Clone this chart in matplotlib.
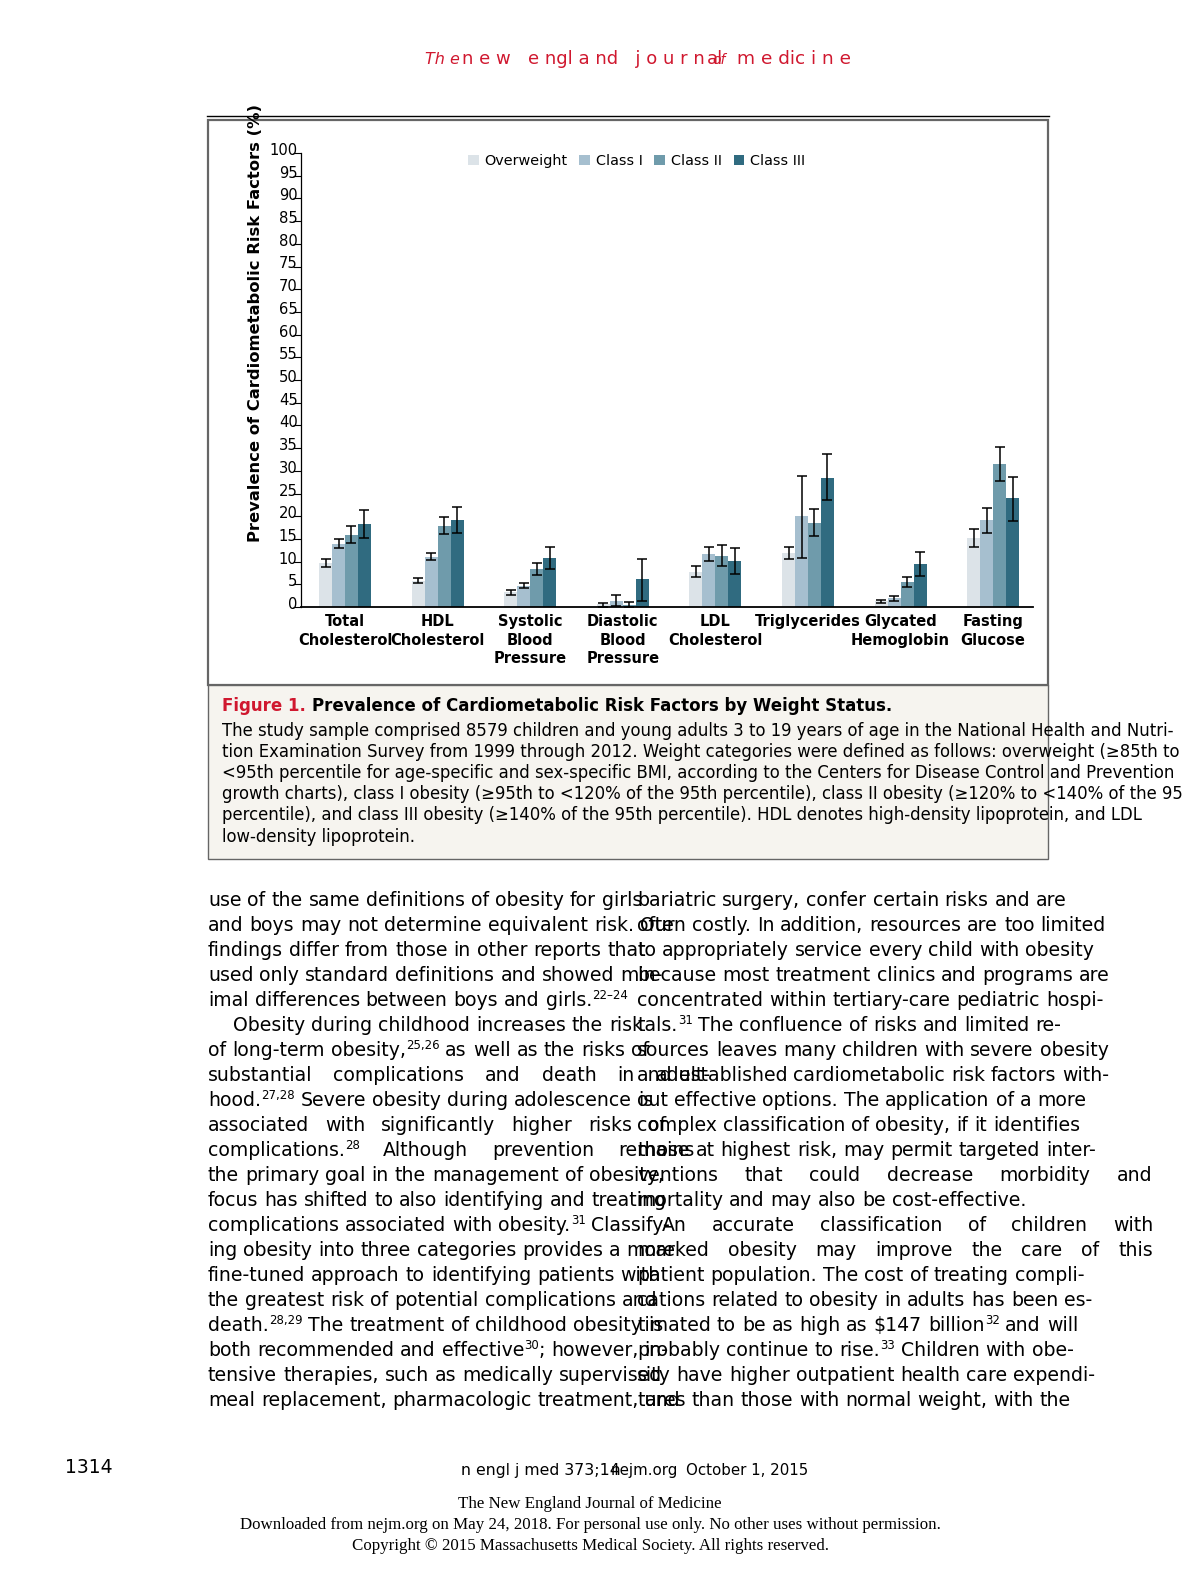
import re
import matplotlib
matplotlib.use('Agg')
import matplotlib.pyplot as plt
import numpy as np
from matplotlib.patches import Rectangle, Patch
from matplotlib.lines import Line2D
from matplotlib.transforms import ScaledTranslation

plt.rcParams['font.family'] = ['DejaVu Sans']

# data (prevalence %, with 95% CI ends)
categories = ['Total\nCholesterol', 'HDL\nCholesterol', 'Systolic\nBlood\nPressure',
              'Diastolic\nBlood\nPressure', 'LDL\nCholesterol', 'Triglycerides',
              'Glycated\nHemoglobin', 'Fasting\nGlucose']
groups = ['Overweight', 'Class I', 'Class II', 'Class III']

overweight = [9.8, 5.7, 3.2, 0.6, 7.7, 11.8, 1.25, 15.2]
ow_lo = [8.9, 5.2, 2.6, 0.0, 6.5, 10.5, 0.95, 13.3]
ow_hi = [10.5, 6.3, 3.7, 0.9, 9.0, 13.3, 1.6, 17.1]

class1 = [13.9, 11.1, 4.7, 1.4, 11.7, 20.0, 2.0, 19.2]
c1_lo = [13.0, 10.4, 4.1, 0.2, 10.1, 10.9, 1.25, 16.4]
c1_hi = [14.9, 11.8, 5.2, 2.6, 13.3, 28.9, 2.5, 21.7]

class2 = [15.9, 17.8, 8.4, 0.55, 11.2, 18.4, 5.5, 31.5]
c2_lo = [14.0, 16.1, 7.0, 0.0, 9.0, 15.6, 4.5, 27.7]
c2_hi = [17.8, 19.8, 9.8, 1.1, 13.6, 21.5, 6.7, 35.3]

class3 = [18.3, 19.2, 10.8, 6.1, 10.1, 28.4, 9.5, 24.0]
c3_lo = [15.3, 16.4, 8.3, 1.4, 7.3, 23.6, 6.9, 19.0]
c3_hi = [21.4, 22.0, 13.3, 10.6, 13.1, 33.6, 12.2, 28.7]

colors = ['#dce3e8', '#a6bfcf', '#6f9bab', '#306b80']
red = '#d0182f'

caption_lines = [
    "The study sample comprised 8579 children and young adults 3 to 19 years of age in the National Health and Nutri-",
    "tion Examination Survey from 1999 through 2012. Weight categories were defined as follows: overweight (\u226585th to",
    "<95th percentile for age-specific and sex-specific BMI, according to the Centers for Disease Control and Prevention",
    "growth charts), class I obesity (\u226595th to <120% of the 95th percentile), class II obesity (\u2265120% to <140% of the 95th",
    "percentile), and class III obesity (\u2265140% of the 95th percentile). HDL denotes high-density lipoprotein, and LDL",
    "low-density lipoprotein.",
]

left_col = [
    "use of the same definitions of obesity for girls",
    "and boys may not determine equivalent risk. Our",
    "findings differ from those in other reports that",
    "used only standard definitions and showed min-",
    "imal differences between boys and girls.^{22\u201324}",
    "Obesity during childhood increases the risk",
    "of long-term obesity,^{25,26} as well as the risks of",
    "substantial complications and death in adult-",
    "hood.^{27,28} Severe obesity during adolescence is",
    "associated with significantly higher risks of",
    "complications.^{28} Although prevention remains",
    "the primary goal in the management of obesity,",
    "focus has shifted to also identifying and treating",
    "complications associated with obesity.^{31} Classify-",
    "ing obesity into three categories provides a more",
    "fine-tuned approach to identifying patients with",
    "the greatest risk of potential complications and",
    "death.^{28,29} The treatment of childhood obesity is",
    "both recommended and effective^{30}; however, in-",
    "tensive therapies, such as medically supervised",
    "meal replacement, pharmacologic treatment, and",
]
right_col = [
    "bariatric surgery, confer certain risks and are",
    "often costly. In addition, resources are too limited",
    "to appropriately service every child with obesity",
    "because most treatment clinics and programs are",
    "concentrated within tertiary-care pediatric hospi-",
    "tals.^{31} The confluence of risks and limited re-",
    "sources leaves many children with severe obesity",
    "and established cardiometabolic risk factors with-",
    "out effective options. The application of a more",
    "complex classification of obesity, if it identifies",
    "those at highest risk, may permit targeted inter-",
    "ventions that could decrease morbidity and",
    "mortality and may also be cost-effective.",
    "An accurate classification of children with",
    "marked obesity may improve the care of this",
    "patient population. The cost of treating compli-",
    "cations related to obesity in adults has been es-",
    "timated to be as high as $147 billion^{32} and will",
    "probably continue to rise.^{33} Children with obe-",
    "sity have higher outpatient health care expendi-",
    "tures than those with normal weight, with the",
]

W, H = 1182, 1575
fig = plt.figure(figsize=(W / 100, H / 100), dpi=100)
renderer = fig.canvas.get_renderer()


def fx(x):
    return x / W


def fy(y):
    return 1 - y / H


def put(x, y, s, **kw):
    return fig.text(fx(x), fy(y), s, parse_math=False, **kw)


def width(s, size, **kw):
    t = put(0, 0, s, fontsize=size, **kw)
    w = t.get_window_extent(renderer).width
    t.remove()
    return w


def draw_line(x, y, line, size, right=None):
    # y is the baseline in page pixels; ^{..} marks a superscript
    sup_size = size * 0.62
    words = []
    for word in line.split(' '):
        pieces = [(p, i % 2 == 1) for i, p in enumerate(re.split(r'\^\{([^}]*)\}', word)) if p]
        wsum = sum(width(p, sup_size if s else size) for p, s in pieces)
        words.append((pieces, wsum))
    space = width('a a', size) - width('aa', size)
    gap = space
    if right is not None and len(words) > 1:
        gap = (right - x - sum(w for _, w in words)) / (len(words) - 1)
    cx = x
    for pieces, wsum in words:
        px = cx
        for p, s in pieces:
            if s:
                put(px + 0.5, y - 7, p, fontsize=sup_size, va='baseline')
                px += width(p, sup_size)
            else:
                put(px, y, p, fontsize=size, va='baseline')
                px += width(p, size)
        cx += wsum + gap


# page furniture
fig.add_artist(Line2D([fx(207), fx(1049)], [fy(115.5), fy(115.5)], color='black', lw=1.0))
fig.add_artist(Rectangle((fx(208), fy(685)), fx(1048) - fx(208), fy(120) - fy(685),
                         transform=fig.transFigure, facecolor='white', edgecolor='#666666', lw=1.6, zorder=0))
fig.add_artist(Rectangle((fx(208), fy(859)), fx(1048) - fx(208), fy(685) - fy(859),
                         transform=fig.transFigure, facecolor='#f6f4ef', edgecolor='#666666', lw=1.0, zorder=0))

# header
put(425, 64, 'Th e', fontsize=11.5, style='italic', color=red, va='baseline')
put(462, 64, 'n e w   e ngl a nd   j o u r n', fontsize=13, color=red, va='baseline')
put(707, 64, 'al', fontsize=13, color=red, va='baseline')
put(712, 64, 'of', fontsize=10, style='italic', color=red, va='baseline')
put(737, 64, 'm e dic i n e', fontsize=13.3, color=red, va='baseline')

# chart
ax = fig.add_axes([fx(301), fy(607), (1033 - 301) / W, (607 - 153) / H])
ax.patch.set_alpha(0)
x = np.arange(len(categories))
bw = 0.14
series = [(overweight, ow_lo, ow_hi), (class1, c1_lo, c1_hi),
          (class2, c2_lo, c2_hi), (class3, c3_lo, c3_hi)]
for j, (vals, lo, hi) in enumerate(series):
    vals, lo, hi = np.array(vals), np.array(lo), np.array(hi)
    xs = x + (j - 1.5) * bw
    ax.bar(xs, vals, bw, color=colors[j], label=groups[j], zorder=2)
    ax.errorbar(xs, vals, yerr=[vals - lo, hi - vals], fmt='none', ecolor='black',
                elinewidth=1.1, capsize=3.5, capthick=1.1, zorder=3)

ax.set_xlim(-0.475, 7.43)
ax.set_ylim(0, 100)
ax.set_yticks(range(0, 101, 5))
ax.tick_params(axis='y', direction='out', length=6, width=0.8, pad=-3.5, labelsize=10.6)
ax.set_yticklabels([str(v) for v in range(0, 101, 5)])
shift = ScaledTranslation(0, -2 / 100, fig.dpi_scale_trans)
for lab in ax.get_yticklabels():
    lab.set_va('baseline')
    lab.set_transform(lab.get_transform() + shift)
ax.set_xticks(x)
ax.set_xticklabels(categories, fontweight='bold', fontsize=10.5, linespacing=1.3)
ax.tick_params(axis='x', length=0, pad=5)
ax.spines['top'].set_visible(False)
ax.spines['right'].set_visible(False)
ax.spines['left'].set_linewidth(0.9)
ax.spines['bottom'].set_linewidth(1.3)

fig.text(fx(256), fy(323), 'Prevalence of Cardiometabolic Risk Factors (%)', rotation=90,
         ha='center', va='center', fontsize=11.8, fontweight='bold')

handles = [Patch(facecolor=c, edgecolor='none') for c in colors]
fig.legend(handles, groups, loc='upper left', bbox_to_anchor=(fx(468), fy(154)), ncol=4,
           frameon=False, fontsize=10.4, handlelength=0.75, handleheight=0.75,
           handletextpad=0.4, columnspacing=0.8, borderpad=0, borderaxespad=0)

# caption
cap = 12
put(222, 711, 'Figure 1.', fontsize=cap, fontweight='bold', color=red, va='baseline')
fw = width('Figure 1.', cap, fontweight='bold') + width('a a', cap, fontweight='bold') - width('aa', cap, fontweight='bold')
put(222 + fw, 711, 'Prevalence of Cardiometabolic Risk Factors by Weight Status.',
    fontsize=cap, fontweight='bold', va='baseline')
for i, line in enumerate(caption_lines):
    put(222, 736 + 21.1 * i, line, fontsize=11.9, va='baseline')

# body text, two columns
justify_left = {7: 711, 9: 666, 10: 694}
justify_right = {11: 1152, 13: 1153, 14: 1153}
body = 13.6
for i, line in enumerate(left_col):
    xl = 233 if i == 5 else 208
    draw_line(xl, 906 + 25.0 * i, line, body, justify_left.get(i))
for i, line in enumerate(right_col):
    xr = 662 if i == 13 else 637
    draw_line(xr, 906 + 25.0 * i, line, body, justify_right.get(i))

# footer
put(65, 1473, '1314', fontsize=13.5, va='baseline')
put(461, 1475, 'n engl j med 373;14', fontsize=11.3, va='baseline')
put(611, 1475, 'nejm.org', fontsize=10.8, va='baseline')
put(686, 1475, 'October 1, 2015', fontsize=10.8, va='baseline')
for k, s in enumerate(['The New England Journal of Medicine',
                       'Downloaded from nejm.org on May 24, 2018. For personal use only. No other uses without permission.',
                       'Copyright \u00a9 2015 Massachusetts Medical Society. All rights reserved.']):
    put(590, 1508 + 21 * k, s, fontsize=12.2, family='Liberation Serif', ha='center', va='baseline')

fig.savefig('out.png', dpi=100)
